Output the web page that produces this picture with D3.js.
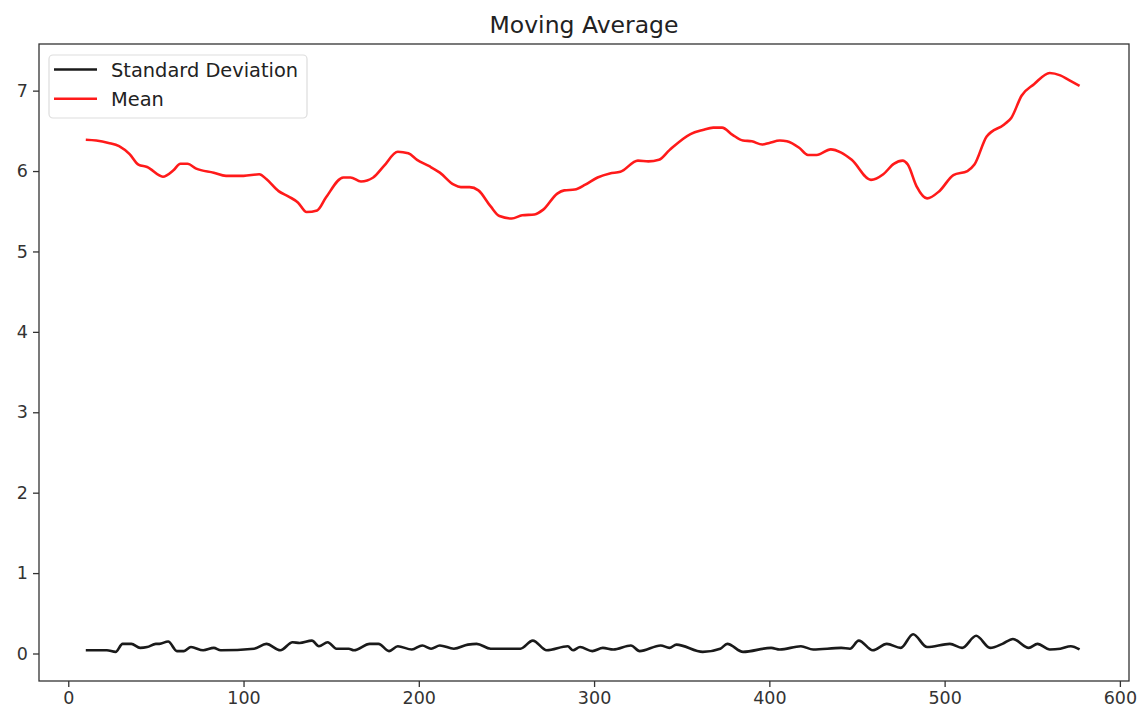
<!DOCTYPE html>
<html>
<head>
<meta charset="utf-8">
<script src="https://cdn.jsdelivr.net/npm/d3@7"></script>
<style>
  body { margin: 0; background: #fff; }
  svg { font-family: "DejaVu Sans", sans-serif; }
</style>
</head>
<body>
<div class="chart"></div>
<script>
// rolling mean
var mean_x = [10, 16, 23, 29, 35, 40, 45, 54, 60, 64, 68, 73, 83, 90, 100, 109, 113, 120, 126, 131,
              136, 142, 147, 157, 161, 167, 174, 180, 188, 194, 199, 206, 212, 220, 224, 229, 234, 241,
              246, 253, 259, 266, 271, 279, 283, 289, 295, 302, 309, 315, 325, 331, 337, 343, 355, 362,
              368, 373, 379, 385, 390, 396, 400, 406, 410, 417, 422, 427, 435, 441, 447, 458, 465, 471,
              476, 479, 484, 490, 497, 505, 513, 517, 524, 534, 538, 544, 551, 560, 566, 571, 577];
var mean_y = [6.39, 6.38, 6.35, 6.31, 6.21, 6.08, 6.05, 5.93, 6.01, 6.09, 6.09, 6.03, 5.98, 5.94, 5.94,
              5.96, 5.90, 5.75, 5.68, 5.61, 5.49, 5.51, 5.67, 5.92, 5.92, 5.87, 5.92, 6.06, 6.24, 6.22,
              6.14, 6.06, 5.98, 5.83, 5.80, 5.80, 5.76, 5.56, 5.44, 5.41, 5.45, 5.46, 5.52, 5.72, 5.76,
              5.77, 5.83, 5.92, 5.97, 5.99, 6.13, 6.12, 6.14, 6.26, 6.46, 6.51, 6.54, 6.54, 6.45, 6.38,
              6.37, 6.33, 6.35, 6.38, 6.37, 6.29, 6.20, 6.20, 6.27, 6.23, 6.14, 5.89, 5.96, 6.09, 6.13,
              6.08, 5.81, 5.66, 5.75, 5.95, 6.00, 6.08, 6.43, 6.58, 6.66, 6.94, 7.08, 7.22, 7.19, 7.13, 7.06];

// rolling standard deviation
var std_x = [10, 22, 27, 31, 36, 41, 45, 50, 52, 57, 62, 66, 70, 77, 83, 87, 106, 113, 121, 128, 132,
             139, 143, 148, 153, 160, 163, 172, 177, 183, 188, 196, 202, 207, 212, 220, 228, 233, 241,
             258, 265, 273, 285, 288, 292, 299, 305, 311, 321, 326, 338, 343, 347, 362, 372, 376, 385,
             401, 406, 418, 425, 441, 446, 451, 459, 467, 475, 482, 490, 503, 510, 518, 526, 533, 539,
             548, 553, 560, 566, 572, 577];
var std_y = [0.04, 0.04, 0.02, 0.12, 0.12, 0.07, 0.08, 0.12, 0.12, 0.15, 0.03, 0.03, 0.08, 0.04, 0.07,
             0.04, 0.06, 0.12, 0.04, 0.14, 0.13, 0.16, 0.09, 0.14, 0.06, 0.06, 0.04, 0.12, 0.12, 0.03,
             0.09, 0.05, 0.10, 0.06, 0.10, 0.06, 0.11, 0.12, 0.06, 0.06, 0.16, 0.04, 0.09, 0.04, 0.08,
             0.03, 0.07, 0.05, 0.10, 0.03, 0.10, 0.07, 0.11, 0.02, 0.06, 0.12, 0.02, 0.07, 0.05, 0.09,
             0.05, 0.07, 0.06, 0.16, 0.04, 0.12, 0.07, 0.24, 0.08, 0.12, 0.07, 0.22, 0.07, 0.12, 0.18,
             0.07, 0.12, 0.05, 0.06, 0.09, 0.05];

var x_ticks = [0, 100, 200, 300, 400, 500, 600];
var y_ticks = [0, 1, 2, 3, 4, 5, 6, 7];
var legend_labels = ["Standard Deviation", "Mean"];

function drawChart() {
  var width = 1143, height = 716;
  // plot frame in pixels
  var frame = {x0: 39, x1: 1129, y0: 44, y1: 681};

  var svg = d3.select(".chart").append("svg")
              .attr("width", width)
              .attr("height", height);

  var x = d3.scaleLinear().domain([-16.7, 605.2]).range([frame.x0, frame.x1]);
  var y = d3.scaleLinear().domain([-0.342, 7.58]).range([frame.y1, frame.y0]);

  // axes
  var xAxis = d3.axisBottom(x).tickValues(x_ticks).tickSize(6).tickPadding(5).tickFormat(d3.format("d"));
  var yAxis = d3.axisLeft(y).tickValues(y_ticks).tickSize(6).tickPadding(5).tickFormat(d3.format("d"));

  var gx = svg.append("g").attr("transform", "translate(0," + frame.y1 + ")").call(xAxis);
  var gy = svg.append("g").attr("transform", "translate(" + frame.x0 + ",0)").call(yAxis);
  [gx, gy].forEach(function(g){
    g.select(".domain").remove();
    g.selectAll(".tick line").attr("stroke", "#333").attr("stroke-width", 1.3);
    g.selectAll(".tick text").attr("fill", "#333").attr("font-size", 17.5)
     .attr("font-family", "DejaVu Sans");
  });

  // lines
  var line = d3.line().curve(d3.curveMonotoneX);

  svg.append("path")
     .datum(std_x.map(function(d, i){ return [x(d), y(std_y[i])]; }))
     .attr("d", line)
     .attr("fill", "none")
     .attr("stroke", "#1a1a1a")
     .attr("stroke-width", 2.6)
     .attr("stroke-linejoin", "round");

  svg.append("path")
     .datum(mean_x.map(function(d, i){ return [x(d), y(mean_y[i])]; }))
     .attr("d", line)
     .attr("fill", "none")
     .attr("stroke", "#ff1a1a")
     .attr("stroke-width", 2.6)
     .attr("stroke-linejoin", "round");

  // frame
  svg.append("rect")
     .attr("x", frame.x0).attr("y", frame.y0)
     .attr("width", frame.x1 - frame.x0).attr("height", frame.y1 - frame.y0)
     .attr("fill", "none")
     .attr("stroke", "#333")
     .attr("stroke-width", 1.3);

  // title
  svg.append("text")
     .attr("x", (frame.x0 + frame.x1) / 2)
     .attr("y", 33)
     .attr("text-anchor", "middle")
     .attr("font-size", 23.5)
     .attr("fill", "#222")
     .text("Moving Average");

  // legend
  var legend = svg.append("g").attr("class", "legend");
  legend.append("rect")
        .attr("x", 49).attr("y", 55)
        .attr("width", 258).attr("height", 63)
        .attr("rx", 4).attr("ry", 4)
        .attr("fill", "#fff")
        .attr("fill-opacity", 0.8)
        .attr("stroke", "#ddd")
        .attr("stroke-width", 1.2);

  var legend_colors = ["#1a1a1a", "#ff1a1a"];
  legend_labels.forEach(function(lbl, i){
    var ly = 69.5 + i * 29.3;
    legend.append("line")
          .attr("x1", 54).attr("x2", 97)
          .attr("y1", ly).attr("y2", ly)
          .attr("stroke", legend_colors[i])
          .attr("stroke-width", 2.6);
    legend.append("text")
          .attr("x", 111).attr("y", ly + 7)
          .attr("font-size", 19.4)
          .attr("fill", "#222")
          .text(lbl);
  });
}

drawChart();
</script>
</body>
</html>
